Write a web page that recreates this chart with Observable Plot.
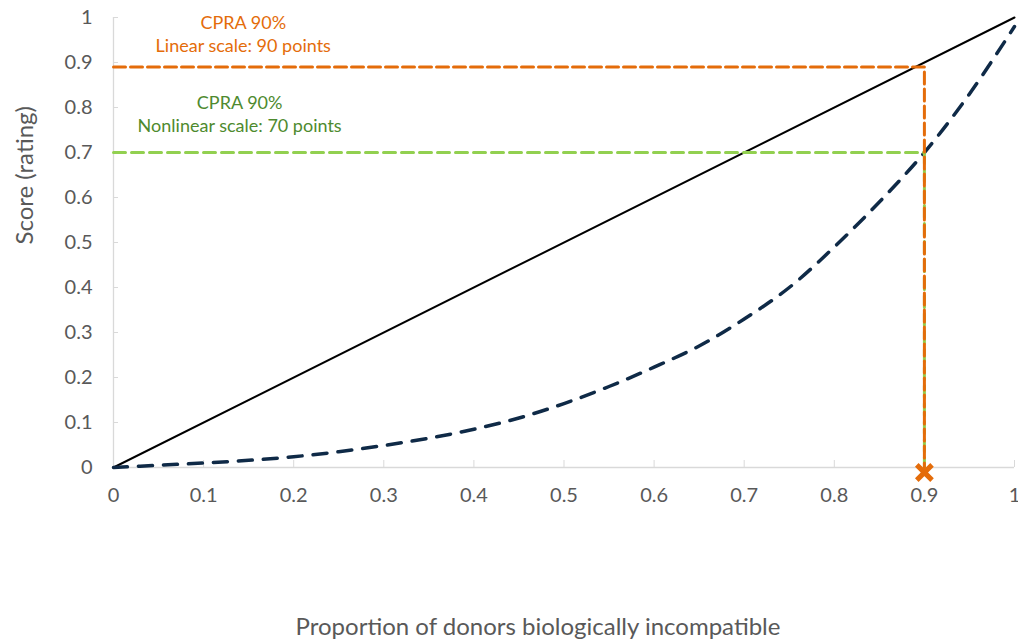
<!DOCTYPE html>
<html>
<head>
<meta charset="utf-8">
<script src="https://cdn.jsdelivr.net/npm/d3@7"></script>
<script src="https://cdn.jsdelivr.net/npm/@observablehq/plot@0.6"></script>
<style>
  html, body { margin: 0; padding: 0; background: #ffffff; }
  #chart { width: 1018px; height: 641px; }
</style>
</head>
<body>
<div id="chart"></div>
<script>
// ---- data ----
const proportion = [0, 0.05, 0.1, 0.15, 0.2, 0.25, 0.3, 0.35, 0.4, 0.45, 0.5, 0.55, 0.6, 0.65, 0.7, 0.75, 0.8, 0.85, 0.9, 0.95, 1];
const nonlinearScore = [0, 0.005, 0.01, 0.016, 0.024, 0.035, 0.049, 0.065, 0.085, 0.11, 0.142, 0.18, 0.223, 0.27, 0.33, 0.40, 0.49, 0.59, 0.70, 0.83, 0.98];
const linearX = [0, 1];
const linearY = [0, 1];
const tickValues = [0, 0.1, 0.2, 0.3, 0.4, 0.5, 0.6, 0.7, 0.8, 0.9, 1];

const orangeGuideX = [0, 0.9, 0.9];
const orangeGuideY = [0.89, 0.89, 0];
const greenGuideX = [0, 0.9, 0.9];
const greenGuideY = [0.70, 0.70, 0];
const markerX = [0.9];
const markerY = [0];

const noteText = ["CPRA 90%", "Linear scale: 90 points", "CPRA 90%", "Nonlinear scale: 70 points"];
const noteX = [0.144, 0.144, 0.140, 0.140];
const noteY = [0.987, 0.936, 0.809, 0.758];
const noteGroup = ["linear", "linear", "nonlinear", "nonlinear"];

const xTitle = "Proportion of donors biologically incompatible";
const yTitle = "Score (rating)";

// ---- build tables ----
const curve = proportion.map((p, i) => ({x: p, y: nonlinearScore[i]}));
const diag = linearX.map((v, i) => ({x: v, y: linearY[i]}));
const orangeGuide = orangeGuideX.map((v, i) => ({x: v, y: orangeGuideY[i]}));
const greenGuide = greenGuideX.map((v, i) => ({x: v, y: greenGuideY[i]}));
const marker = markerX.map((v, i) => ({x: v, y: markerY[i]}));
const notes = noteText.map((t, i) => ({text: t, x: noteX[i], y: noteY[i], g: noteGroup[i]}));

const ORANGE = "#E46C0A";
const ORANGE_TEXT = "#E46C0A";
const GREEN = "#92D050";
const GREEN_TEXT = "#4E8A2E";
const NAVY = "#0f2a47";
const AXIS = "#d9d9d9";
const TEXT = "#595959";
const FONT = "Lato, 'Open Sans', sans-serif";

const chart = Plot.plot({
  width: 1018,
  height: 641,
  marginLeft: 113,
  marginRight: 4,
  marginTop: 17,
  marginBottom: 174,
  style: {fontFamily: FONT, color: TEXT, background: "#ffffff", overflow: "visible"},
  x: {domain: [0, 1]},
  y: {domain: [0, 1]},
  marks: [
    Plot.ruleX([0], {stroke: AXIS, strokeWidth: 1.3}),
    Plot.ruleY([0], {stroke: AXIS, strokeWidth: 1.3}),
    Plot.axisX({ticks: tickValues, tickFormat: d => String(d), tickSize: -7, tickPadding: 27,
      stroke: AXIS, fill: TEXT, fontSize: 20, label: null}),
    Plot.axisY({ticks: tickValues, tickFormat: d => String(d), tickSize: -5, tickPadding: 26,
      stroke: AXIS, fill: TEXT, fontSize: 20, label: null}),
    Plot.line(diag, {x: "x", y: "y", stroke: "#000000", strokeWidth: 2}),
    Plot.line(curve, {x: "x", y: "y", curve: "catmull-rom", stroke: NAVY, strokeWidth: 3.5,
      strokeDasharray: "14,11", strokeLinecap: "round"}),
    Plot.line(greenGuide, {x: "x", y: "y", stroke: GREEN, strokeWidth: 3, strokeDasharray: "12,6"}),
    Plot.line(orangeGuide, {x: "x", y: "y", stroke: ORANGE, strokeWidth: 3, strokeDasharray: "12,5"}),
    Plot.dot(marker, {x: "x", y: "y", symbol: "times", r: 7, stroke: ORANGE, strokeWidth: 5, dy: 5}),
    Plot.text(notes, {x: "x", y: "y", text: "text", fontSize: 18,
      fill: d => d.g === "linear" ? ORANGE_TEXT : GREEN_TEXT, textAnchor: "middle", lineAnchor: "middle"}),
    Plot.text([xTitle], {frameAnchor: "bottom", text: d => d, dy: 160, dx: -26, fontSize: 24, fill: TEXT, lineAnchor: "middle"}),
    Plot.text([yTitle], {frameAnchor: "left", text: d => d, dx: -88, dy: 2, rotate: -90, fontSize: 24, fill: TEXT, lineAnchor: "middle"})
  ]
});
document.getElementById("chart").appendChild(chart);
</script>
</body>
</html>
